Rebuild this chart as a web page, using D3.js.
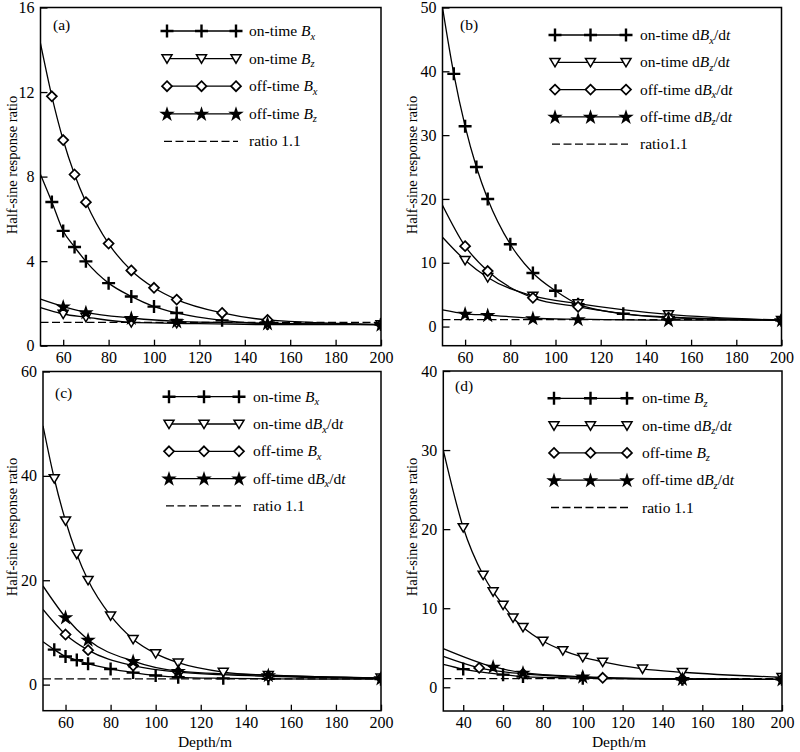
<!DOCTYPE html>
<html>
<head>
<meta charset="utf-8">
<script src="https://cdn.jsdelivr.net/npm/d3@7"></script>
<style>
    html, body { margin: 0; padding: 0; background: #fff; }
    svg text { font-family: "Liberation Serif", "Times New Roman", serif; fill: #000; }
</style>
</head>
<body>
<svg id="chart" width="800" height="752"></svg>
<script>
// ---------- data ----------
var depthDense  = [50, 55, 60, 65, 70, 80, 90, 100, 110, 130, 150, 200];
var depthSparse = [50, 60, 70, 90, 110, 150, 200];

// (a) B-field, on/off time
var aOnBx  = [8.1, 6.8, 5.43, 4.67, 3.99, 2.96, 2.33, 1.85, 1.55, 1.2, 1.05, 1.0];
var aOnBz  = [1.8, 1.5, 1.35, 1.1, 1.06, 1.0, 1.0];
var aOffBx = [14.3, 11.8, 9.73, 8.1, 6.79, 4.83, 3.56, 2.74, 2.18, 1.55, 1.22, 1.0];
var aOffBz = [2.2, 1.85, 1.58, 1.31, 1.15, 1.06, 1.0];

// (b) dB/dt, on/off time
var bOnDBx  = [50, 39.6, 31.4, 25, 20, 12.9, 8.4, 5.6, 3.5, 2.0, 1.5, 1.0];
var bOnDBz  = [14, 10.4, 7.7, 4.8, 3.6, 1.9, 1.0];
var bOffDBx = [19, 12.6, 8.7, 4.5, 3.1, 1.4, 1.0];
var bOffDBz = [2.6, 2.0, 1.8, 1.3, 1.15, 1.0, 1.0];

// (c) x component
var cOnBx   = [8.2, 6.7, 5.4, 4.7, 4.0, 3.0, 2.3, 1.75, 1.4, 1.2, 1.1, 1.05];
var cOnDBx  = [49.6, 39.5, 31.4, 25, 20, 13.2, 8.7, 5.95, 4.2, 2.4, 1.8, 1.3];
var cOffBx  = [14.4, 9.6, 6.6, 3.65, 2.4, 1.6, 1.2];
var cOffDBx = [18.9, 12.9, 8.6, 4.5, 2.6, 1.8, 1.2];

// (d) z component
var dOnBzDepth   = [30, 40, 60, 70, 100, 150, 200];
var dOnBz        = [2.9, 2.3, 1.6, 1.35, 1.15, 1.02, 1.0];
var dOnDBzDepth  = [30, 40, 50, 55, 60, 65, 70, 80, 90, 100, 110, 130, 150, 200];
var dOnDBz       = [30, 20.2, 14.2, 12.1, 10.4, 8.8, 7.6, 5.85, 4.66, 3.8, 3.2, 2.33, 1.9, 1.27];
var dOffBzDepth  = [30, 48, 70, 110, 150, 200];
var dOffBz       = [3.9, 2.45, 1.7, 1.2, 1.05, 1.0];
var dOffDBzDepth = [30, 55, 70, 100, 150, 200];
var dOffDBz      = [4.9, 2.6, 1.85, 1.35, 1.05, 1.0];

var ratioLine = 1.1;

var xTicksA = [60, 80, 100, 120, 140, 160, 180, 200];
var xTicksD = [40, 60, 80, 100, 120, 140, 160, 180, 200];
var yTicksA = [0, 4, 8, 12, 16];
var yTicksB = [0, 10, 20, 30, 40, 50];
var yTicksC = [0, 20, 40, 60];
var yTicksD = [0, 10, 20, 30, 40];

function zip(xs, ys) {
    return xs.map(function(d, i) { return { x: d, y: ys[i] }; });
}

// legend label pieces: [text, italic, subscript]
function lbl(pre, comp, deriv) {
    var parts = [[pre, false, false]];
    if (deriv) parts.push(["d", false, false]);
    parts.push(["B", true, false]);
    parts.push([comp, true, true]);
    if (deriv) { parts.push(["/d", false, false]); parts.push(["t", true, false]); }
    return parts;
}

var panels = [
    {
        tag: "(a)", box: [40.5, 7.5, 381, 345.7], xDom: [50, 200], yDom: [0, 16],
        xTicks: xTicksA, yTicks: yTicksA, xTitle: false, tagPos: [53, 30],
        legend: { x0: 167, x1: 236, tx: 249, y0: 31, dy: 27.6 },
        series: [
            { mark: "plus", pts: zip(depthDense, aOnBx), label: lbl("on-time ", "x", false) },
            { mark: "tri", pts: zip(depthSparse, aOnBz), label: lbl("on-time ", "z", false) },
            { mark: "diamond", pts: zip(depthDense, aOffBx), label: lbl("off-time ", "x", false) },
            { mark: "star", pts: zip(depthSparse, aOffBz), label: lbl("off-time ", "z", false) }
        ],
        ratioText: "ratio 1.1"
    },
    {
        tag: "(b)", box: [442.5, 7.5, 781.5, 345.7], xDom: [50, 200], yDom: [-3, 50],
        xTicks: xTicksA, yTicks: yTicksB, xTitle: false, tagPos: [460, 30],
        legend: { x0: 555, x1: 626, tx: 640, y0: 35, dy: 27.3 },
        series: [
            { mark: "plus", pts: zip(depthDense, bOnDBx), label: lbl("on-time ", "x", true) },
            { mark: "tri", pts: zip(depthSparse, bOnDBz), label: lbl("on-time ", "z", true) },
            { mark: "diamond", pts: zip(depthSparse, bOffDBx), label: lbl("off-time ", "x", true) },
            { mark: "star", pts: zip(depthSparse, bOffDBz), label: lbl("off-time ", "z", true) }
        ],
        ratioText: "ratio1.1"
    },
    {
        tag: "(c)", box: [43, 371.5, 381, 710.7], xDom: [50, 200], yDom: [-5, 60],
        xTicks: xTicksA, yTicks: yTicksC, xTitle: true, tagPos: [55, 398],
        legend: { x0: 169, x1: 239, tx: 253, y0: 396.7, dy: 27.3 },
        series: [
            { mark: "plus", pts: zip(depthDense, cOnBx), label: lbl("on-time ", "x", false) },
            { mark: "tri", pts: zip(depthDense, cOnDBx), label: lbl("on-time ", "x", true) },
            { mark: "diamond", pts: zip(depthSparse, cOffBx), label: lbl("off-time ", "x", false) },
            { mark: "star", pts: zip(depthSparse, cOffDBx), label: lbl("off-time ", "x", true) }
        ],
        ratioText: "ratio 1.1"
    },
    {
        tag: "(d)", box: [443.3, 371, 782, 711], xDom: [30, 200], yDom: [-3, 40],
        xTicks: xTicksD, yTicks: yTicksD, xTitle: true, tagPos: [455, 391],
        legend: { x0: 554, x1: 627, tx: 642, y0: 398.3, dy: 27.3 },
        series: [
            { mark: "plus", pts: zip(dOnBzDepth, dOnBz), label: lbl("on-time ", "z", false) },
            { mark: "tri", pts: zip(dOnDBzDepth, dOnDBz), label: lbl("on-time ", "z", true) },
            { mark: "diamond", pts: zip(dOffBzDepth, dOffBz), label: lbl("off-time ", "z", false) },
            { mark: "star", pts: zip(dOffDBzDepth, dOffDBz), label: lbl("off-time ", "z", true) }
        ],
        ratioText: "ratio 1.1"
    }
];

var svg = d3.select("#chart");
var serif = "Liberation Serif, Times New Roman, serif";

// ---------- markers ----------
function drawMark(g, kind, x, y) {
    if (kind === "plus") {
        g.append("path").attr("d", "M-6.5,0H6.5M0,-6.5V6.5")
            .attr("transform", "translate(" + x + "," + y + ")")
            .attr("stroke", "#000").attr("stroke-width", 2.4).attr("fill", "none");
    } else if (kind === "tri") {
        g.append("path").attr("d", "M-5,-3.8L5,-3.8L0,4.6Z")
            .attr("transform", "translate(" + x + "," + y + ")")
            .attr("stroke", "#000").attr("stroke-width", 1.5).attr("fill", "#fff");
    } else if (kind === "diamond") {
        g.append("path").attr("d", "M0,-5L5,0L0,5L-5,0Z")
            .attr("transform", "translate(" + x + "," + y + ")")
            .attr("stroke", "#000").attr("stroke-width", 1.7).attr("fill", "#fff");
    } else if (kind === "star") {
        g.append("path").attr("d", d3.symbol().type(d3.symbolStar).size(75)())
            .attr("transform", "translate(" + x + "," + (y + 0.5) + ")")
            .attr("fill", "#000");
    }
}

var line = d3.line().curve(d3.curveMonotoneX);

panels.forEach(function(p, pi) {
    var L = p.box[0], T = p.box[1], R = p.box[2], B = p.box[3];
    var x = d3.scaleLinear().domain(p.xDom).range([L, R]);
    var y = d3.scaleLinear().domain(p.yDom).range([B, T]);
    var g = svg.append("g");

    var clipId = "clip" + pi;
    svg.append("clipPath").attr("id", clipId)
        .append("rect").attr("x", L).attr("y", T).attr("width", R - L).attr("height", B - T);

    // y axis: ticks point inward
    var yAxis = d3.axisLeft(y).tickValues(p.yTicks).tickSize(-7).tickPadding(6).tickFormat(d3.format("d"));
    var ya = g.append("g").attr("transform", "translate(" + L + ",0)").call(yAxis)
        .attr("font-family", serif).attr("font-size", 16);
    ya.select(".domain").remove();
    ya.selectAll("line").attr("stroke-width", 1.3);

    // x axis: inward ticks
    var xAxis = d3.axisBottom(x).tickValues(p.xTicks).tickSize(-6).tickPadding(5.5);
    var xa = g.append("g").attr("transform", "translate(0," + B + ")").call(xAxis)
        .attr("font-family", serif).attr("font-size", 16);
    xa.select(".domain").remove();
    xa.selectAll("line").attr("stroke-width", 1.3);

    var plot = g.append("g").attr("clip-path", "url(#" + clipId + ")");

    // ratio line
    plot.append("line")
        .attr("x1", L).attr("x2", R).attr("y1", y(ratioLine)).attr("y2", y(ratioLine))
        .attr("stroke", "#000").attr("stroke-width", 1.3).attr("stroke-dasharray", "8,3.5");

    p.series.forEach(function(s) {
        plot.append("path")
            .attr("d", line(s.pts.map(function(d) { return [x(d.x), y(d.y)]; })))
            .attr("fill", "none").attr("stroke", "#000").attr("stroke-width", 1.3);
    });
    p.series.forEach(function(s) {
        s.pts.forEach(function(d) {
            if (d.x === p.xDom[0]) return; // first point sits on the axis, no marker
            drawMark(plot, s.mark, x(d.x), y(d.y));
        });
    });

    // frame
    g.append("rect").attr("x", L).attr("y", T).attr("width", R - L).attr("height", B - T)
        .attr("fill", "none").attr("stroke", "#000").attr("stroke-width", 1.5);

    // panel tag
    g.append("text").attr("x", p.tagPos[0]).attr("y", p.tagPos[1])
        .attr("font-size", 15.5).text(p.tag);

    // legend
    var lg = p.legend;
    p.series.forEach(function(s, i) {
        var ly = lg.y0 + i * lg.dy;
        g.append("line").attr("x1", lg.x0).attr("x2", lg.x1).attr("y1", ly).attr("y2", ly)
            .attr("stroke", "#000").attr("stroke-width", 1.3);
        [lg.x0, (lg.x0 + lg.x1) / 2, lg.x1].forEach(function(mx) { drawMark(g, s.mark, mx, ly); });
        var t = g.append("text").attr("x", lg.tx).attr("y", ly + 5).attr("font-size", 15.5);
        var shifted = false;
        s.label.forEach(function(part) {
            var ts = t.append("tspan").text(part[0]);
            if (part[1]) ts.attr("font-style", "italic");
            if (part[2]) { ts.attr("font-size", 10.5).attr("dy", 3.5); shifted = true; }
            else if (shifted) { ts.attr("dy", -3.5); shifted = false; }
        });
    });
    var ry = lg.y0 + 4 * lg.dy;
    g.append("line").attr("x1", lg.x0 - 3).attr("x2", lg.x1 + 2).attr("y1", ry).attr("y2", ry)
        .attr("stroke", "#000").attr("stroke-width", 1.3).attr("stroke-dasharray", "8,3.5");
    g.append("text").attr("x", lg.tx).attr("y", ry + 5).attr("font-size", 15.5).text(p.ratioText);

    // axis titles
    var cy = pi < 2 ? 165 : 527;
    var cx = (pi % 2 === 0) ? 12 : 412;
    g.append("text").attr("transform", "translate(" + cx + "," + cy + ") rotate(-90)")
        .attr("text-anchor", "middle").attr("dy", "0.35em").attr("font-size", 14.5)
        .text("Half-sine response ratio");
    if (p.xTitle) {
        g.append("text").attr("x", pi === 2 ? 205 : 619).attr("y", 747)
            .attr("text-anchor", "middle").attr("font-size", 15.5).text("Depth/m");
    }
});
</script>
</body>
</html>
